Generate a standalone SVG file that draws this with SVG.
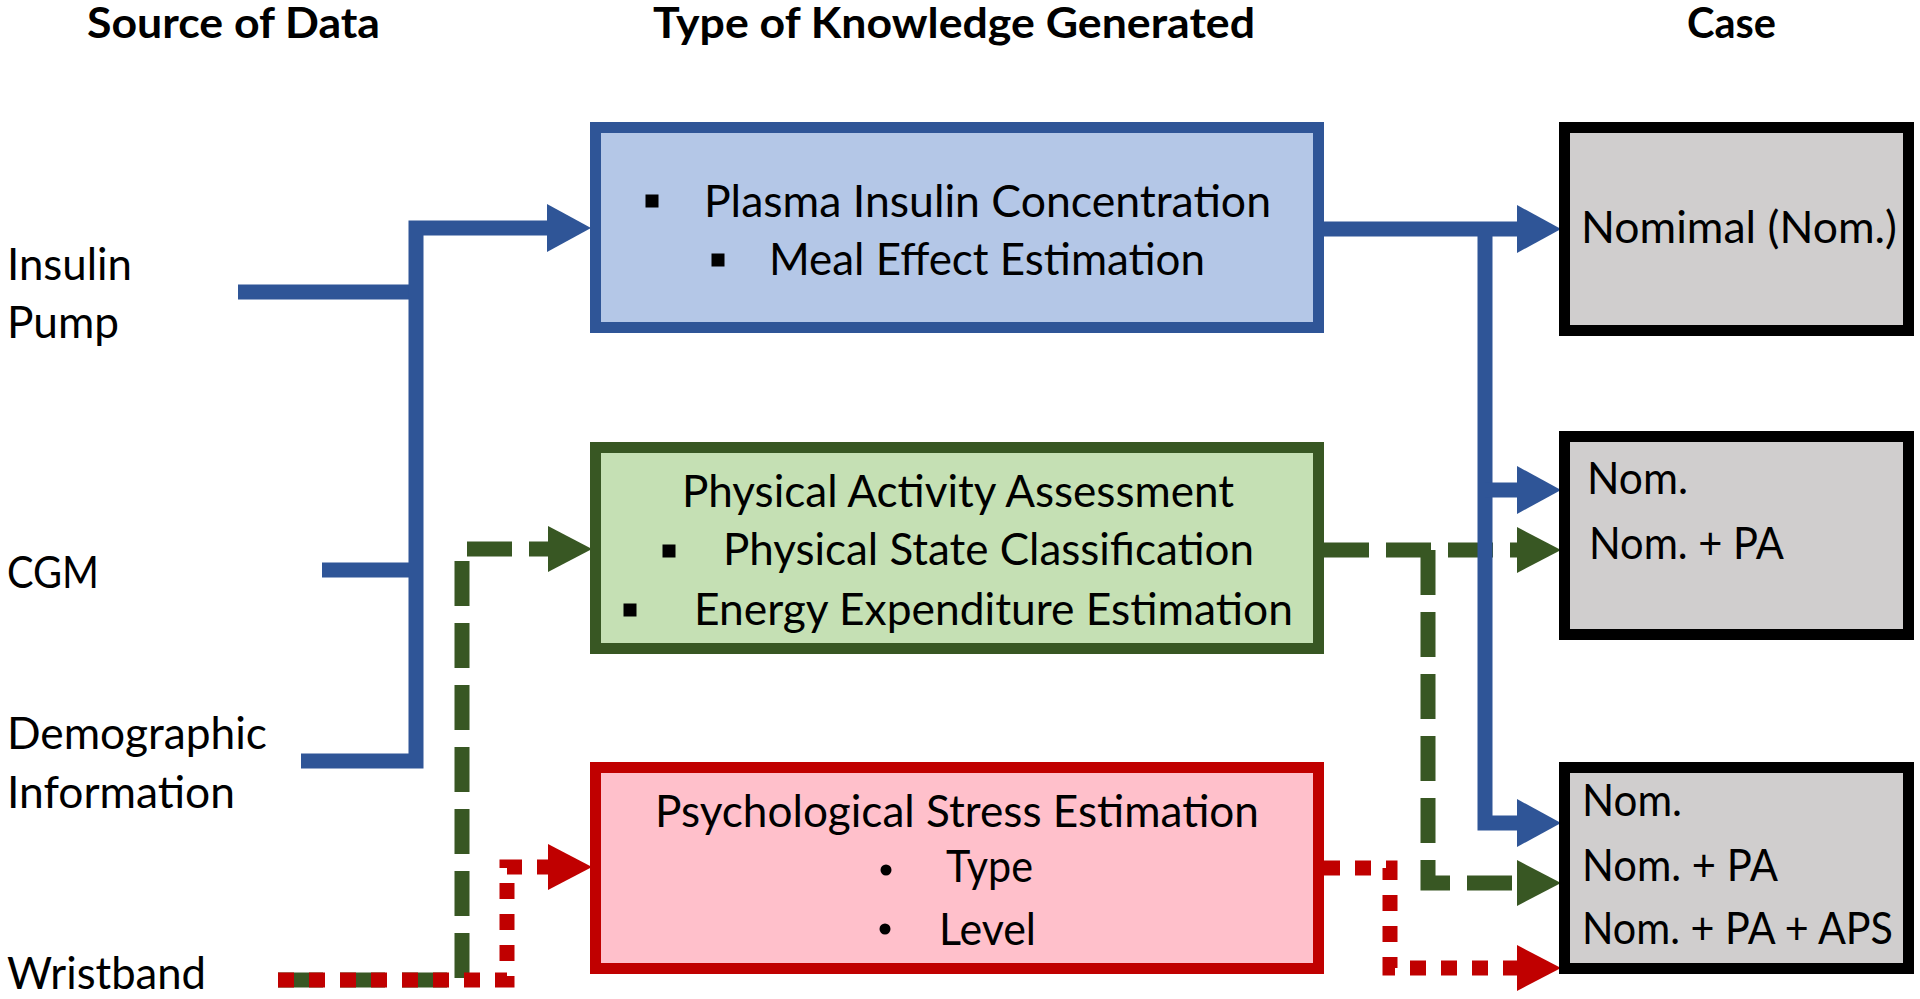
<svg xmlns="http://www.w3.org/2000/svg" width="1920" height="999" viewBox="0 0 1920 999">
<style>
  text { font-family: Lato, "Open Sans", "Liberation Sans", sans-serif; font-size: 45px; fill: #000; }
  .hdr { font-weight: bold; font-size: 42px; }
  .box { stroke-width: 11; }
  .blue { fill: #B4C7E7; stroke: #2F5597; }
  .green { fill: #C5E0B4; stroke: #385723; }
  .red { fill: #FFC0CB; stroke: #C00000; }
  .gray { fill: #D0CECE; stroke: #000; }
  .cb { fill: none; stroke: #2F5597; stroke-width: 15; stroke-linejoin: miter; stroke-linecap: butt; }
  .cg { fill: none; stroke: #385723; stroke-width: 15; stroke-dasharray: 45 17; stroke-linejoin: miter; }
  .cr { fill: none; stroke: #C00000; stroke-width: 15; stroke-dasharray: 16 15; stroke-linejoin: miter; }
</style>
<defs>
  <marker id="ab" markerUnits="userSpaceOnUse" markerWidth="44" markerHeight="48" refX="0" refY="24" orient="auto"><path d="M0,0 L44,24 L0,48 Z" fill="#2F5597"/></marker>
  <marker id="ag" markerUnits="userSpaceOnUse" markerWidth="44" markerHeight="48" refX="0" refY="24" orient="auto"><path d="M0,1 L44,24 L0,47 Z" fill="#385723"/></marker>
  <marker id="ar" markerUnits="userSpaceOnUse" markerWidth="44" markerHeight="48" refX="0" refY="24" orient="auto"><path d="M0,1 L44,24 L0,47 Z" fill="#C00000"/></marker>
</defs>

<g id="headers">
  <text class="hdr" x="87" y="38" textLength="293" lengthAdjust="spacingAndGlyphs">Source of Data</text>
  <text class="hdr" x="653" y="38" textLength="602" lengthAdjust="spacingAndGlyphs">Type of Knowledge Generated</text>
  <text class="hdr" x="1687" y="38" textLength="89" lengthAdjust="spacingAndGlyphs">Case</text>
</g>

<g id="src-insulin-pump">
  <text x="7" y="280" textLength="125" lengthAdjust="spacingAndGlyphs">Insulin</text>
  <text x="7" y="338" textLength="112" lengthAdjust="spacingAndGlyphs">Pump</text>
</g>
<g id="src-cgm">
  <text x="7" y="588" textLength="92" lengthAdjust="spacingAndGlyphs">CGM</text>
</g>
<g id="src-demographic">
  <text x="7" y="749" textLength="260" lengthAdjust="spacingAndGlyphs">Demographic</text>
  <text x="7" y="808" textLength="228" lengthAdjust="spacingAndGlyphs">Information</text>
</g>
<g id="src-wristband">
  <text x="7" y="989" textLength="199" lengthAdjust="spacingAndGlyphs">Wristband</text>
</g>

<g id="connectors">
  <path class="cg" d="M278,980 H462 V549 H548" marker-end="url(#ag)"/>
  <path class="cr" d="M278,980 H507 V867 H548" marker-end="url(#ar)"/>
  <path class="cb" d="M238,292 H416"/>
  <path class="cb" d="M322,570 H416"/>
  <path class="cb" d="M301,761 H416 V228 H547" marker-end="url(#ab)"/>
  <path class="cg" d="M1324,550 H1517" marker-end="url(#ag)"/>
  <path class="cg" d="M1428,550 V883 H1517" marker-end="url(#ag)"/>
  <path class="cr" d="M1324,868 H1390 V968 H1517" marker-end="url(#ar)"/>
  <path class="cb" d="M1324,229 H1517" marker-end="url(#ab)"/>
  <path class="cb" d="M1485,229 V823 H1517" marker-end="url(#ab)"/>
  <path class="cb" d="M1485,490 H1517" marker-end="url(#ab)"/>
</g>

<g id="knowledge-insulin">
  <rect class="box blue" x="595.5" y="127.5" width="723" height="200"/>
  <rect x="645.5" y="194.5" width="13" height="13" fill="#000"/>
  <text x="704" y="217" textLength="567" lengthAdjust="spacingAndGlyphs">Plasma Insulin Concentration</text>
  <rect x="711.5" y="253.5" width="13" height="13" fill="#000"/>
  <text x="769" y="275" textLength="436" lengthAdjust="spacingAndGlyphs">Meal Effect Estimation</text>
</g>

<g id="knowledge-physical-activity">
  <rect class="box green" x="595.5" y="447.5" width="723" height="201"/>
  <text x="682" y="507" textLength="552" lengthAdjust="spacingAndGlyphs">Physical Activity Assessment</text>
  <rect x="662.5" y="544.5" width="13" height="13" fill="#000"/>
  <text x="723" y="565" textLength="531" lengthAdjust="spacingAndGlyphs">Physical State Classification</text>
  <rect x="623.5" y="603.5" width="13" height="13" fill="#000"/>
  <text x="694" y="625" textLength="599" lengthAdjust="spacingAndGlyphs">Energy Expenditure Estimation</text>
</g>

<g id="knowledge-stress">
  <rect class="box red" x="595.5" y="767.5" width="723" height="201"/>
  <text x="655" y="827" textLength="604" lengthAdjust="spacingAndGlyphs">Psychological Stress Estimation</text>
  <circle cx="886" cy="870" r="5.5" fill="#000"/>
  <text x="946" y="882" textLength="87" lengthAdjust="spacingAndGlyphs">Type</text>
  <circle cx="885" cy="929" r="5.5" fill="#000"/>
  <text x="939" y="945" textLength="97" lengthAdjust="spacingAndGlyphs">Level</text>
</g>

<g id="case-nominal">
  <rect class="box gray" x="1564.5" y="127.5" width="344" height="203"/>
  <text x="1581" y="243" textLength="316" lengthAdjust="spacingAndGlyphs">Nomimal (Nom.)</text>
</g>

<g id="case-pa">
  <rect class="box gray" x="1564.5" y="436.5" width="344" height="198"/>
  <text x="1587" y="494" textLength="101" lengthAdjust="spacingAndGlyphs">Nom.</text>
  <text x="1589" y="559" textLength="195" lengthAdjust="spacingAndGlyphs">Nom. + PA</text>
</g>

<g id="case-pa-aps">
  <rect class="box gray" x="1564.5" y="767.5" width="344" height="201"/>
  <text x="1582" y="816" textLength="100" lengthAdjust="spacingAndGlyphs">Nom.</text>
  <text x="1582" y="881" textLength="196" lengthAdjust="spacingAndGlyphs">Nom. + PA</text>
  <text x="1582" y="944" textLength="311" lengthAdjust="spacingAndGlyphs">Nom. + PA + APS</text>
</g>
</svg>
